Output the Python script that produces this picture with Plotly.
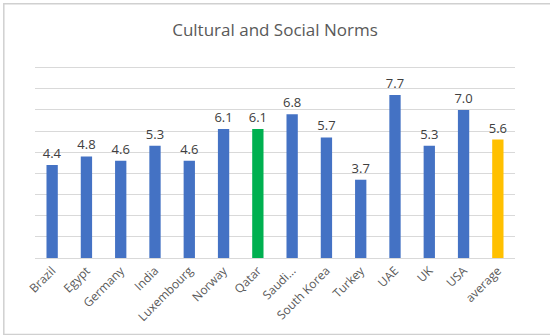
import plotly.graph_objects as go

categories = ["Brazil", "Egypt", "Germany", "India", "Luxembourg", "Norway", "Qatar",
              "Saudi...", "South Korea", "Turkey", "UAE", "UK", "USA", "average"]
values = [4.4, 4.8, 4.6, 5.3, 4.6, 6.1, 6.1, 6.8, 5.7, 3.7, 7.7, 5.3, 7.0, 5.6]
labels = ["4.4", "4.8", "4.6", "5.3", "4.6", "6.1", "6.1", "6.8", "5.7", "3.7", "7.7", "5.3", "7.0", "5.6"]
grid_ticks = [0, 1, 2, 3, 4, 5, 6, 7, 8, 9]

BLUE, GREEN, GOLD = "#4472C4", "#00B050", "#FFC000"
colors = [GREEN if c == "Qatar" else GOLD if c == "average" else BLUE for c in categories]

fig = go.Figure(go.Bar(
    x=categories, y=values, marker_color=colors, marker_line_width=0,
    text=labels, textposition="outside", cliponaxis=False, constraintext="none",
    textfont=dict(size=13, color="#404040"), width=0.33,
))

fig.update_layout(
    width=550, height=335,
    margin=dict(l=35, r=35, t=57, b=77, autoexpand=False),
    paper_bgcolor="white", plot_bgcolor="white",
    font=dict(family="Open Sans, Noto Sans, sans-serif", color="#595959"),
    title=dict(text="Cultural and Social Norms", x=0.5, xanchor="center",
               y=0.91, yanchor="middle", font=dict(size=17, color="#595959")),
    showlegend=False,
    shapes=[dict(type="rect", xref="paper", yref="paper",
                 x0=-0.065, x1=1.106, y0=-0.38, y1=1.265,
                 line=dict(color="#D0D0D0", width=1.5), fillcolor="rgba(0,0,0,0)", layer="above")],
)
fig.update_xaxes(tickangle=-45, tickfont=dict(size=12, color="#595959"), automargin=False,
                 showline=True, linecolor="#D9D9D9", showgrid=False, ticks="")
fig.update_yaxes(range=[0, 9.5], tickmode="array", tickvals=grid_ticks,
                 showticklabels=False, showgrid=True, automargin=False,
                 gridcolor="#D9D9D9", zeroline=False, ticks="")

fig.write_html("out.html", post_script="document.body.style.margin='0';",
               config={"displayModeBar": False})
